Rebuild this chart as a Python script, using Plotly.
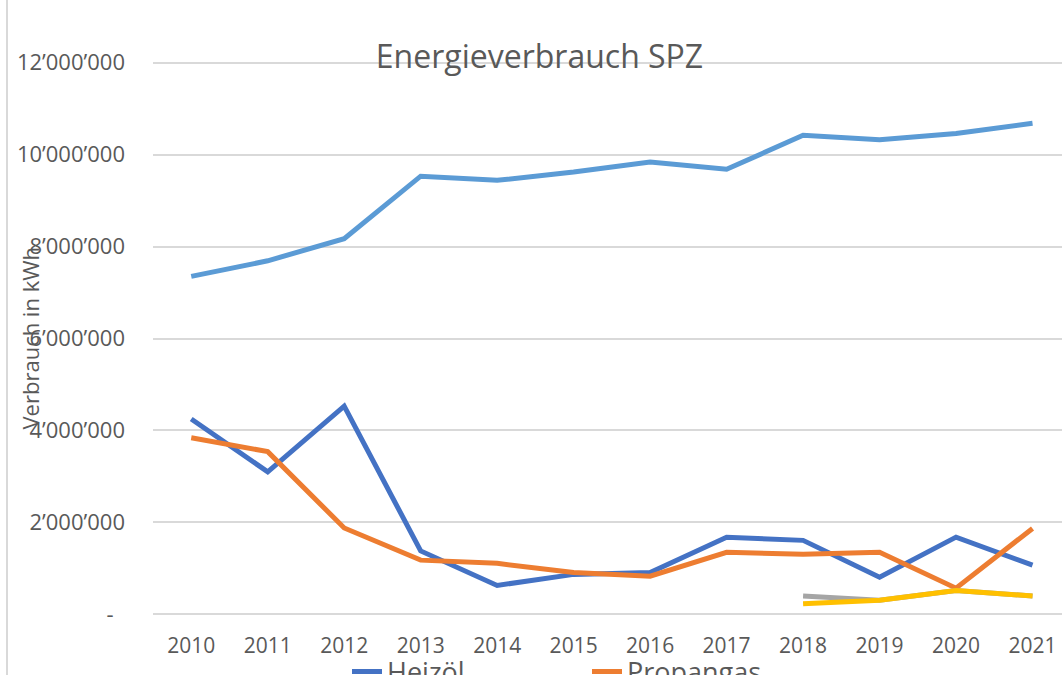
import plotly.graph_objects as go

# Energy consumption per carrier, kWh per year
years = ["2010", "2011", "2012", "2013", "2014", "2015",
         "2016", "2017", "2018", "2019", "2020", "2021"]

heizoel = [4250000, 3100000, 4530000, 1380000, 630000, 870000,
           910000, 1680000, 1610000, 810000, 1680000, 1070000]
propangas = [3840000, 3540000, 1880000, 1180000, 1110000, 910000,
             830000, 1350000, 1310000, 1350000, 570000, 1870000]
holz = [None, None, None, None, None, None,
        None, None, 400000, 310000, 520000, 400000]
solar = [None, None, None, None, None, None,
         None, None, 230000, 310000, 520000, 400000]
strom = [7350000, 7690000, 8170000, 9530000, 9440000, 9620000,
         9840000, 9680000, 10420000, 10320000, 10460000, 10680000]

y_ticks = [0, 2000000, 4000000, 6000000, 8000000, 10000000, 12000000]
y_tick_text = ["-\u00a0\u00a0", "2’000’000", "4’000’000", "6’000’000",
               "8’000’000", "10’000’000", "12’000’000"]

FONT = "Open Sans, Liberation Sans, sans-serif"
GREY_TEXT = "#595959"
GRID = "#d9d9d9"

W, H = 1062, 675
M_L, M_R, M_T, M_B = 153, 0, 58, 56
plot_w = W - M_L - M_R
plot_h = H - M_T - M_B
step = 76.48  # pixels per category

fig = go.Figure()

series = [
    ("Heizöl", heizoel, "#4472C4", True),
    ("Propangas", propangas, "#ED7D31", True),
    ("Holz", holz, "#A5A5A5", False),
    ("Solar", solar, "#FFC000", False),
    ("Strom", strom, "#5B9BD5", False),
]
for name, vals, color, show in series:
    fig.add_trace(go.Scatter(
        x=list(range(len(years))), y=vals, name=name, mode="lines",
        line=dict(color=color, width=5),
        showlegend=show, connectgaps=False,
    ))

x_max = plot_w / step - 0.5

fig.update_layout(
    width=W, height=H,
    margin=dict(l=M_L, r=M_R, t=M_T, b=M_B, autoexpand=False),
    paper_bgcolor="white", plot_bgcolor="white",
    font=dict(family=FONT, color=GREY_TEXT),
    title=dict(text="Energieverbrauch SPZ", x=539.5 / W, xanchor="center",
               xref="container", y=1 - 57 / H, yanchor="middle",
               yref="container",
               font=dict(size=32, color=GREY_TEXT, family=FONT)),
    xaxis=dict(
        range=[-0.5, x_max], tickmode="array",
        tickvals=list(range(len(years))), ticktext=years,
        showgrid=False, zeroline=False, showline=False, ticks="",
        tickfont=dict(size=21, color=GREY_TEXT), ticklabelstandoff=12,
        fixedrange=True,
    ),
    yaxis=dict(
        range=[-100000, 12100000], tickmode="array",
        tickvals=y_ticks, ticktext=y_tick_text,
        showgrid=True, gridcolor=GRID, gridwidth=1.6,
        zeroline=False, showline=False, ticks="",
        tickfont=dict(size=22, color=GREY_TEXT), ticklabelstandoff=27,
        fixedrange=True,
    ),
    legend=dict(
        orientation="h", x=(347 - M_L) / plot_w, xanchor="left",
        y=-(672 - (H - M_B)) / plot_h, yanchor="middle",
        font=dict(size=27, color=GREY_TEXT, family=FONT),
        entrywidth=195, entrywidthmode="pixels",
        bgcolor="rgba(0,0,0,0)", borderwidth=0, traceorder="normal",
    ),
    showlegend=True,
    annotations=[dict(
        text="Verbrauch in kWh", textangle=-90,
        xref="paper", yref="paper", x=(29 - M_L) / plot_w, y=0.5,
        xanchor="center", yanchor="middle", showarrow=False,
        font=dict(size=22, color=GREY_TEXT, family=FONT),
    )],
    shapes=[dict(
        type="line", xref="paper", yref="paper",
        x0=(7 - M_L) / plot_w, x1=(7 - M_L) / plot_w, y0=-0.2, y1=1.2,
        line=dict(color=GRID, width=2),
    )],
)

fig.write_html("out.html")
